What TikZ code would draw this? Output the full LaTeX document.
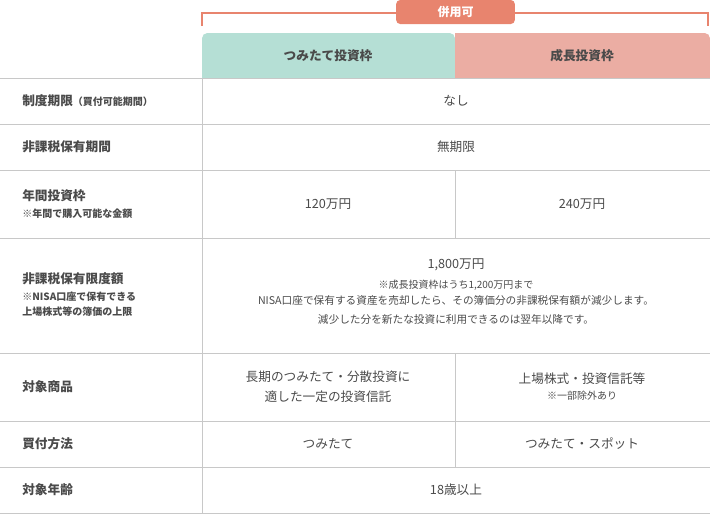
\documentclass[tikz,border=0pt]{standalone}
\usepackage{fontspec}
\setmainfont{Noto Sans CJK JP}
\usetikzlibrary{positioning}
\definecolor{txtgray}{HTML}{4A4A4A}
\definecolor{linegray}{HTML}{C8C8C8}
\definecolor{tealhead}{HTML}{B5DFD5}
\definecolor{pinkhead}{HTML}{EBADA3}
\definecolor{salmon}{HTML}{E8846E}
\tikzset{
  rowlabel/.style={anchor=west, font=\fontsize{9.5}{12}\selectfont\bfseries, text=txtgray, inner sep=0},
  sublabel/.style={anchor=west, font=\fontsize{7.5}{11}\selectfont\bfseries, text=txtgray, inner sep=0, align=left},
  cell/.style={font=\fontsize{9.5}{15}\selectfont, text=txtgray, align=center, inner sep=0},
  smallcell/.style={font=\fontsize{7.5}{12}\selectfont, text=txtgray, align=center, inner sep=0},
  grid/.style={draw=linegray, line width=0.75pt}
}
\begin{document}
\begin{tikzpicture}[x=0.75pt,y=-0.75pt]
  \useasboundingbox (0,0) rectangle (710,515);
  % header
  \fill[tealhead, rounded corners=4pt] (202,78) -- (202,33) -- (455,33) -- (455,78) -- cycle;
  \fill[tealhead] (202,60) rectangle (455,78);
  \fill[pinkhead, rounded corners=4pt] (455,78) -- (455,33) -- (710,33) -- (710,78) -- cycle;
  \fill[pinkhead] (455,33) rectangle (460,78);
  \fill[pinkhead] (455,60) rectangle (710,78);
  \node[font=\fontsize{9.5}{12}\selectfont\bfseries, text=txtgray] (tsumitate) at (328,56) {つみたて投資枠};
  \node[font=\fontsize{9.5}{12}\selectfont\bfseries, text=txtgray] (seicho) at (582,56) {成長投資枠};
  % bracket
  \draw[salmon, line width=0.9pt] (202,26) -- (202,13) -- (708,13) -- (708,26);
  \node[fill=salmon, rounded corners=3pt, minimum width=89pt, minimum height=18pt, text=white,
    font=\fontsize{9}{12}\selectfont\bfseries] (heiyou) at (455.5,12) {併用可};
  % grid
  \foreach \y in {78,124,170,238,353,421,467,513}
    \draw[grid] (0,\y) -- (710,\y);
  \draw[grid] (202,78) -- (202,513);
  \draw[grid] (455,170) -- (455,238);
  \draw[grid] (455,353) -- (455,467);
  % rows
  \node[rowlabel] (kikan) at (22,101) {制度期限\fontsize{7.5}{10}\selectfont（買付可能期間）};
  \node[cell] (nashi) at (456,101) {なし};
  \node[rowlabel] (hoyu) at (22,147) {非課税保有期間};
  \node[cell] (mukigen) at (456,147) {無期限};
  \node[rowlabel] (nenkan) at (22,196) {年間投資枠};
  \node[sublabel, below=5pt of nenkan.south west, anchor=north west] (nenkannote) {※年間で購入可能な金額};
  \node[cell] (man120) at (328,204) {120万円};
  \node[cell] (man240) at (582,204) {240万円};
  \node[rowlabel] (gendo) at (22,279) {非課税保有限度額};
  \node[sublabel, below=5pt of gendo.south west, anchor=north west] (gendonote) {※NISA口座で保有できる\\上場株式等の簿価の上限};
  \node[cell] (man1800) at (456,265) {1,800万円};
  \node[smallcell, below=6pt of man1800] (uchi) {※成長投資枠はうち1,200万円まで};
  \node[smallcell, below=4pt of uchi, font=\fontsize{8}{14}\selectfont] (baikyaku) {NISA口座で保有する資産を売却したら、その簿価分の非課税保有額が減少します。\\減少した分を新たな投資に利用できるのは翌年以降です。};
  \node[rowlabel] (shohin) at (22,387) {対象商品};
  \node[cell] (bunsan) at (328,387) {長期のつみたて・分散投資に\\適した一定の投資信託};
  \node[cell] (joujou) at (582,379) {上場株式・投資信託等};
  \node[smallcell, below=4pt of joujou] (jogai) {※一部除外あり};
  \node[rowlabel] (kaitsuke) at (22,444) {買付方法};
  \node[cell] (tsumitate) at (328,444) {つみたて};
  \node[cell] (spot) at (582,444) {つみたて・スポット};
  \node[rowlabel] (nenrei) at (22,490) {対象年齢};
  \node[cell] (ijou) at (456,490) {18歳以上};
\end{tikzpicture}
\end{document}
